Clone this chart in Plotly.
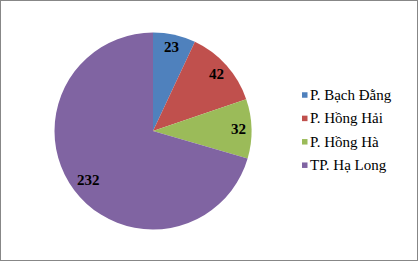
import math
import plotly.graph_objects as go

labels = ["P. Bạch Đằng", "P. Hồng Hải", "P. Hồng Hà", "TP. Hạ Long"]
values = [23, 42, 32, 232]
colors = ["#4F81BD", "#C0504D", "#9BBB59", "#8064A2"]
label_radius = [0.87, 0.86, 0.87, 0.82]  # data-label distance as fraction of radius

W, H = 418, 261
FONT = "Liberation Serif"

# pie geometry (px)
cx, cy, R = 153, 131, 98.5
dom_x = [(cx - R) / W, (cx + R) / W]
dom_y = [(H - cy - R) / H, (H - cy + R) / H]

fig = go.Figure(go.Pie(
    labels=labels,
    values=values,
    sort=False,
    direction="clockwise",
    rotation=0,
    marker=dict(colors=colors, line=dict(width=0)),
    textinfo="none",
    domain=dict(x=dom_x, y=dom_y),
    hoverinfo="label+value",
    showlegend=False,
))

annotations = []
shapes = [dict(type="rect", xref="paper", yref="paper", x0=0, y0=0, x1=1, y1=1,
               line=dict(color="#878787", width=2))]

# data labels placed at each slice's mid-angle
total = sum(values)
cum = 0
for v, f in zip(values, label_radius):
    mid = (cum + v / 2) / total * 2 * math.pi
    cum += v
    px = cx + f * R * math.sin(mid)
    py = cy - f * R * math.cos(mid)
    annotations.append(dict(
        x=px / W, y=1 - py / H, xref="paper", yref="paper", showarrow=False,
        text=f"<b>{v}</b>", font=dict(family=FONT, size=15, color="black"),
        xanchor="center", yanchor="middle"))

# legend
leg_x, leg_y0, leg_dy, sq = 302, 95, 23.4, 5.5
for i, (lab, col) in enumerate(zip(labels, colors)):
    y = leg_y0 + i * leg_dy
    shapes.append(dict(type="rect", xref="paper", yref="paper",
                       x0=leg_x / W, x1=(leg_x + sq) / W,
                       y0=1 - (y + sq / 2) / H, y1=1 - (y - sq / 2) / H,
                       fillcolor=col, line=dict(width=0)))
    annotations.append(dict(
        x=(leg_x + sq) / W, y=1 - y / H, xref="paper", yref="paper",
        showarrow=False, text=lab, xanchor="left", yanchor="middle",
        font=dict(family=FONT, size=15, color="black")))

fig.update_layout(
    width=W, height=H,
    margin=dict(l=0, r=0, t=0, b=0),
    paper_bgcolor="white",
    plot_bgcolor="white",
    font=dict(family=FONT, size=14, color="black"),
    annotations=annotations,
    shapes=shapes,
)

fig.write_html("out.html")
